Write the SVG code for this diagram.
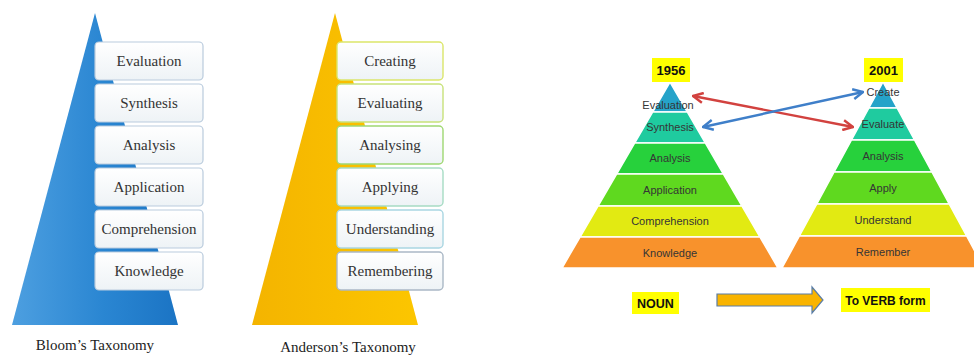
<svg xmlns="http://www.w3.org/2000/svg" width="974" height="358" viewBox="0 0 974 358">
<defs>
<style>
.serif{font-family:"Liberation Serif","Times New Roman",serif;font-size:15px;fill:#333;text-anchor:middle}
.cap{font-family:"Liberation Serif","Times New Roman",serif;font-size:15px;fill:#222;text-anchor:middle}
.sans{font-family:"Liberation Sans",Arial,sans-serif;font-size:11px;fill:#353535;text-anchor:middle}
.bold{font-family:"Liberation Sans",Arial,sans-serif;font-weight:bold;font-size:12.5px;fill:#111;text-anchor:middle}
.bbox{fill:url(#boxFill);stroke:#b9cbdd;stroke-width:1.2}
.abox{fill:url(#boxFill);stroke-width:1.4}
.layer{stroke:#fff;stroke-width:1.5}
.yel{fill:#ffff00}
</style>
<linearGradient id="blueG" x1="0" y1="0" x2="1" y2="0">
<stop offset="0" stop-color="#4d9fe0"/>
<stop offset="0.55" stop-color="#2a86d2"/>
<stop offset="1" stop-color="#1b74c4"/>
</linearGradient>
<linearGradient id="yelG" x1="0" y1="0" x2="1" y2="0">
<stop offset="0" stop-color="#f4b400"/>
<stop offset="1" stop-color="#fcc600"/>
</linearGradient>
<linearGradient id="boxFill" x1="0" y1="0" x2="0" y2="1">
<stop offset="0" stop-color="#ffffff"/>
<stop offset="1" stop-color="#eef3f6"/>
</linearGradient>
<marker id="redHead" viewBox="0 0 12 12" refX="11" refY="6" markerWidth="12" markerHeight="12" markerUnits="userSpaceOnUse" orient="auto-start-reverse">
<path d="M1,1 L11,6 L1,11" fill="none" stroke="#d2423f" stroke-width="2.4" stroke-linejoin="miter"/>
</marker>
<marker id="blueHead" viewBox="0 0 12 12" refX="11" refY="6" markerWidth="12" markerHeight="12" markerUnits="userSpaceOnUse" orient="auto-start-reverse">
<path d="M1,1 L11,6 L1,11" fill="none" stroke="#3f7fc9" stroke-width="2.4" stroke-linejoin="miter"/>
</marker>
</defs>
<rect x="0" y="0" width="974" height="358" fill="#ffffff"/>

<!-- Bloom's Taxonomy -->
<g id="bloom-pyramid">
<polygon points="95,13 12,325 178,325" fill="url(#blueG)"/>
</g>
<g id="bloom-evaluation"><rect class="bbox" x="95" y="42" width="108" height="38" rx="4"/><text class="serif" x="149" y="66">Evaluation</text></g>
<g id="bloom-synthesis"><rect class="bbox" x="95" y="84" width="108" height="38" rx="4"/><text class="serif" x="149" y="108">Synthesis</text></g>
<g id="bloom-analysis"><rect class="bbox" x="95" y="126" width="108" height="38" rx="4"/><text class="serif" x="149" y="150">Analysis</text></g>
<g id="bloom-application"><rect class="bbox" x="95" y="168" width="108" height="38" rx="4"/><text class="serif" x="149" y="192">Application</text></g>
<g id="bloom-comprehension"><rect class="bbox" x="95" y="210" width="108" height="38" rx="4"/><text class="serif" x="149" y="234">Comprehension</text></g>
<g id="bloom-knowledge"><rect class="bbox" x="95" y="252" width="108" height="38" rx="4"/><text class="serif" x="149" y="276">Knowledge</text></g>
<g id="bloom-caption"><text class="cap" x="95" y="350">Bloom’s Taxonomy</text></g>

<!-- Anderson's Taxonomy -->
<g id="anderson-pyramid">
<polygon points="335,13 252,325 418,325" fill="url(#yelG)"/>
</g>
<g id="anderson-creating"><rect class="abox" stroke="#dbe66a" x="337" y="42" width="106" height="38" rx="4"/><text class="serif" x="390" y="66">Creating</text></g>
<g id="anderson-evaluating"><rect class="abox" stroke="#c8e27a" x="337" y="84" width="106" height="38" rx="4"/><text class="serif" x="390" y="108">Evaluating</text></g>
<g id="anderson-analysing"><rect class="abox" stroke="#9fd872" x="337" y="126" width="106" height="38" rx="4"/><text class="serif" x="390" y="150">Analysing</text></g>
<g id="anderson-applying"><rect class="abox" stroke="#a6dcc4" x="337" y="168" width="106" height="38" rx="4"/><text class="serif" x="390" y="192">Applying</text></g>
<g id="anderson-understanding"><rect class="abox" stroke="#a9d6e2" x="337" y="210" width="106" height="38" rx="4"/><text class="serif" x="390" y="234">Understanding</text></g>
<g id="anderson-remembering"><rect class="abox" stroke="#aab8c6" x="337" y="252" width="106" height="38" rx="4"/><text class="serif" x="390" y="276">Remembering</text></g>
<g id="anderson-caption"><text class="cap" x="348" y="352">Anderson’s Taxonomy</text></g>

<!-- 1956 pyramid -->
<g id="p1956-evaluation"><polygon class="layer" fill="#25a3c9" points="670,82 687.4,112 652.6,112"/><text class="sans" x="668" y="109">Evaluation</text></g>
<g id="p1956-synthesis"><polygon class="layer" fill="#1fcb9f" points="652.6,112 687.4,112 705.4,143 634.6,143"/><text class="sans" x="670" y="131">Synthesis</text></g>
<g id="p1956-analysis"><polygon class="layer" fill="#27d13c" points="634.6,143 705.4,143 723.4,174 616.6,174"/><text class="sans" x="670" y="162">Analysis</text></g>
<g id="p1956-application"><polygon class="layer" fill="#5fd91f" points="616.6,174 723.4,174 742,206 598,206"/><text class="sans" x="670" y="194">Application</text></g>
<g id="p1956-comprehension"><polygon class="layer" fill="#e2ea12" points="598,206 742,206 760,237 580,237"/><text class="sans" x="670" y="225">Comprehension</text></g>
<g id="p1956-knowledge"><polygon class="layer" fill="#f8922c" points="580,237 760,237 778,268 562,268"/><text class="sans" x="670" y="257">Knowledge</text></g>
<g id="label-1956"><rect class="yel" x="652" y="58" width="38" height="24"/><text class="bold" x="671" y="75" style="font-size:13px">1956</text></g>

<!-- 2001 pyramid -->
<g id="p2001-create"><polygon class="layer" fill="#25a3c9" points="883,82 897.1,108 868.9,108"/><text class="sans" x="883" y="96">Create</text></g>
<g id="p2001-evaluate"><polygon class="layer" fill="#1fcb9f" points="868.9,108 897.1,108 914.5,140 851.5,140"/><text class="sans" x="883" y="128">Evaluate</text></g>
<g id="p2001-analysis"><polygon class="layer" fill="#27d13c" points="851.5,140 914.5,140 931.9,172 834.1,172"/><text class="sans" x="883" y="160">Analysis</text></g>
<g id="p2001-apply"><polygon class="layer" fill="#5fd91f" points="834.1,172 931.9,172 949.2,204 816.8,204"/><text class="sans" x="883" y="192">Apply</text></g>
<g id="p2001-understand"><polygon class="layer" fill="#e2ea12" points="816.8,204 949.2,204 966.6,236 799.4,236"/><text class="sans" x="883" y="224">Understand</text></g>
<g id="p2001-remember"><polygon class="layer" fill="#f8922c" points="799.4,236 966.6,236 984,268 782,268"/><text class="sans" x="883" y="256">Remember</text></g>
<g id="label-2001"><rect class="yel" x="864" y="58" width="39" height="24"/><text class="bold" x="883.5" y="75" style="font-size:13px">2001</text></g>

<!-- bottom labels -->
<g id="label-noun"><rect class="yel" x="632" y="292" width="47" height="22"/><text class="bold" x="655.5" y="307.5">NOUN</text></g>
<g id="label-verb"><rect class="yel" x="841" y="288" width="89" height="24"/><text class="bold" x="885.5" y="304.5" style="font-size:12px">To VERB form</text></g>

<!-- connectors -->
<g id="connectors">
<line x1="693" y1="96" x2="853" y2="127" stroke="#d2423f" stroke-width="2.4" marker-start="url(#redHead)" marker-end="url(#redHead)"/>
<line x1="703" y1="127" x2="863" y2="92" stroke="#3f7fc9" stroke-width="2.4" marker-start="url(#blueHead)" marker-end="url(#blueHead)"/>
<polygon points="717,294 812,294 812,287 823,300 812,313 812,306 717,306" fill="#f9b400" stroke="#5a7da6" stroke-width="1.2" stroke-linejoin="miter"/>
</g>
</svg>
